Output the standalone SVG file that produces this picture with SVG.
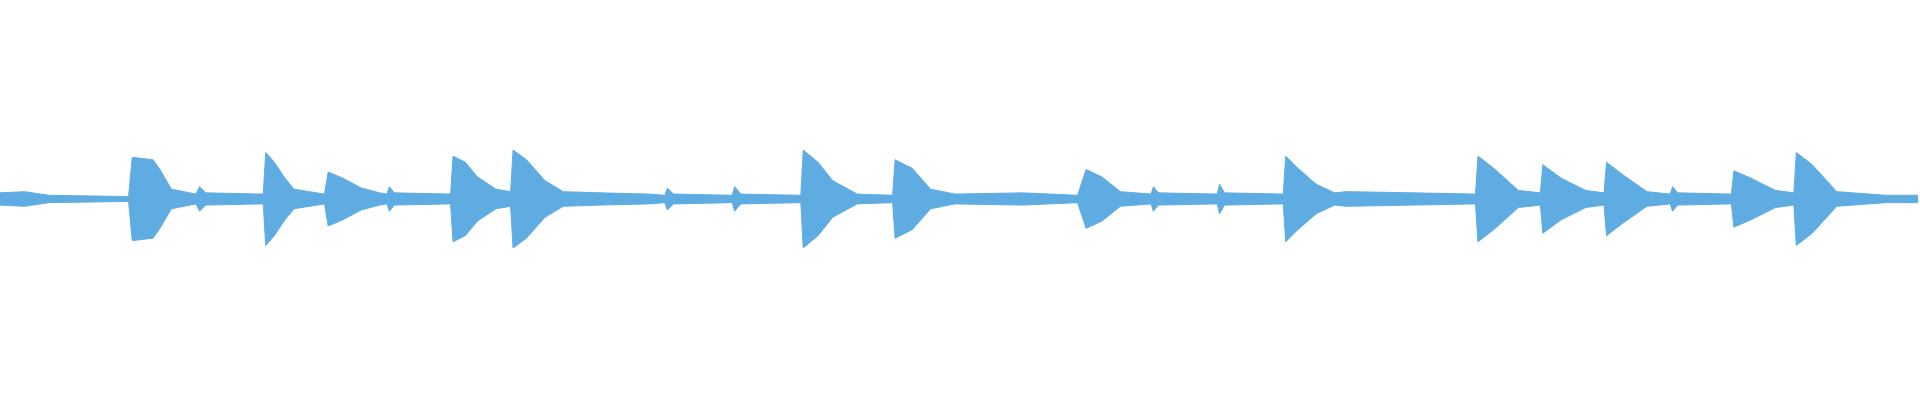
<svg xmlns="http://www.w3.org/2000/svg" width="1920" height="400" viewBox="0 0 1920 400">
<style>.w{fill:#5eacE2;stroke:#5eace2;stroke-width:0.8}</style>
<rect width="1920" height="400" fill="#fff"/>
<g transform="scale(1.22449)">
<path class="w" d="M0 157.5 L20 156.5 L40 159.5 L105 160.5 L108 128.5 L125 130.5 L130 137.5 L140 154.5 L160 158.5 L163 152.5 L168 157.5 L215 158.5 L217 124.5 L224 132.5 L232 144.5 L240 154.5 L265 158.5 L268 140.5 L280 145.5 L295 153.5 L310 157.5 L316 158.5 L318 152.5 L322 157.5 L368 158.5 L370 127.5 L380 132.5 L390 144.5 L405 154.5 L417 156.5 L419 122.5 L430 130.5 L445 147.5 L460 156.5 L490 157.5 L530 158.5 L543 159.5 L545 153.5 L550 158.5 L598 159.5 L600 152.5 L605 158.5 L654 159.5 L656 122.5 L668 132.5 L680 147.5 L700 158.5 L729 159.5 L731 130.5 L745 137.5 L760 154.5 L780 158.5 L835 157.5 L880 159.5 L887 138.5 L900 144.5 L915 156.5 L940 158.5 L942 152.5 L946 157.5 L994 158.5 L996 150.5 L1000 157.5 L1048 158.5 L1050 127.5 L1060 137.5 L1075 150.5 L1090 157.5 L1100 156.5 L1154 157.5 L1205 158.5 L1207 127.5 L1220 137.5 L1240 155.5 L1258 157.5 L1260 134.5 L1275 145.5 L1295 155.5 L1310 157.5 L1312 132.5 L1325 142.5 L1345 156.5 L1364 158.5 L1366 152.5 L1370 157.5 L1414 158.5 L1416 139.5 L1430 145.5 L1450 155.5 L1465 157.5 L1467 124.5 L1480 134.5 L1500 156.5 L1540 159.5 L1566 159.5 L1566 165.5 L1540 165.5 L1500 168.5 L1480 190.5 L1467 200.5 L1465 167.5 L1450 169.5 L1430 179.5 L1416 185.5 L1414 166.5 L1370 167.5 L1366 172.5 L1364 166.5 L1345 168.5 L1325 182.5 L1312 192.5 L1310 167.5 L1295 169.5 L1275 179.5 L1260 190.5 L1258 167.5 L1240 169.5 L1220 187.5 L1207 197.5 L1205 166.5 L1154 167.5 L1100 168.5 L1090 167.5 L1075 174.5 L1060 187.5 L1050 197.5 L1048 166.5 L1000 167.5 L996 174.5 L994 166.5 L946 167.5 L942 172.5 L940 166.5 L915 168.5 L900 180.5 L887 186.5 L880 165.5 L835 167.5 L780 166.5 L760 170.5 L745 187.5 L731 194.5 L729 165.5 L700 166.5 L680 177.5 L668 192.5 L656 202.5 L654 165.5 L605 166.5 L600 172.5 L598 165.5 L550 166.5 L545 171.5 L543 165.5 L530 166.5 L490 167.5 L460 168.5 L445 177.5 L430 194.5 L419 202.5 L417 168.5 L405 170.5 L390 180.5 L380 192.5 L370 197.5 L368 166.5 L322 167.5 L318 172.5 L316 166.5 L310 167.5 L295 171.5 L280 179.5 L268 184.5 L265 166.5 L240 170.5 L232 180.5 L224 192.5 L217 200.5 L215 166.5 L168 167.5 L163 172.5 L160 166.5 L140 170.5 L130 187.5 L125 194.5 L108 196.5 L105 164.5 L40 165.5 L20 168.5 L0 167.5 Z"/>
</g>
</svg>
